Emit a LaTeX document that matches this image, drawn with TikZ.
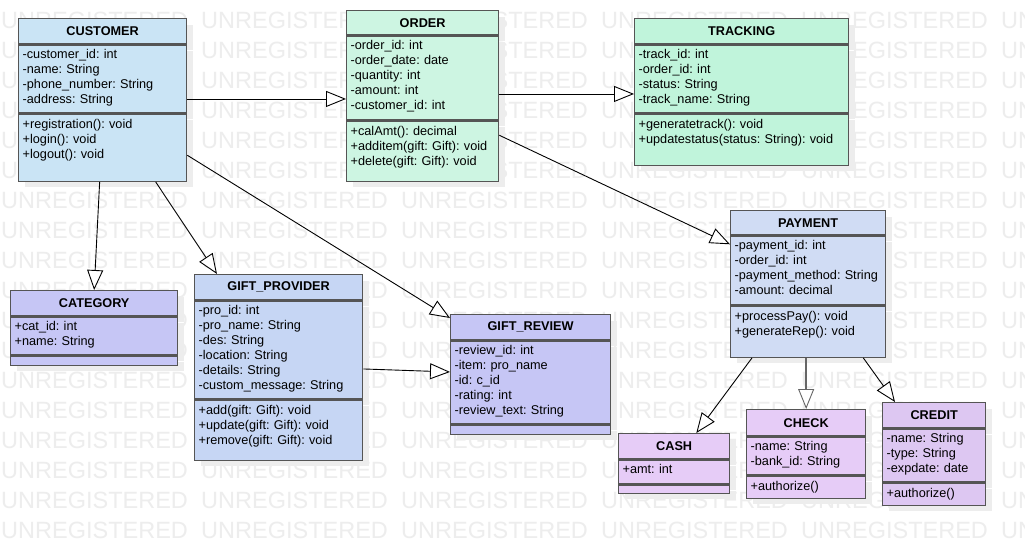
\documentclass[tikz,border=0pt]{standalone}
\usepackage{fontspec}
\setmainfont{Liberation Sans}
\usepackage{tikz}
\usetikzlibrary{arrows.meta,positioning,shadows}
\usepackage{xcolor}
\frenchspacing

\definecolor{edge}{HTML}{555555}
\definecolor{custblue}{HTML}{CAE4F5}
\definecolor{ordermint}{HTML}{CDF5E2}
\definecolor{trackmint}{HTML}{C0F4DB}
\definecolor{lavender}{HTML}{C6C6F5}
\definecolor{periwinkle}{HTML}{C6D6F4}
\definecolor{paylight}{HTML}{D0DCF4}
\definecolor{lilac}{HTML}{E6CCF7}
\definecolor{credlilac}{HTML}{DDC7F2}

\begin{document}
\begin{tikzpicture}[
    x=1pt, y=-1pt,
    shade/.style={drop shadow={shadow xshift=6pt, shadow yshift=-6pt, fill=black!7, opacity=1}},
    head/.style={draw=edge, line width=1.3pt, inner sep=0pt, minimum height=25pt, shade,
        font=\fontsize{12.7}{15}\selectfont\bfseries},
    body/.style={draw=edge, line width=1.3pt, inner xsep=4pt, inner ysep=0pt, align=left, shade,
        text height=14pt, text depth=#1, font=\fontsize{12.7}{15}\selectfont},
    nomethods/.style={body=#1, text height=0pt},
    inherit/.style={-{Triangle[length=20pt, width=16pt, fill=white]}, line width=0.9pt},
    wm/.style={inner sep=0pt, anchor=west, text=black!7, font=\fontsize{23.5}{24}\selectfont}
]
\clip (0,0) rectangle (1025,542);
\fill[white] (0,0) rectangle (1025,542);

% watermark
\foreach \r in {0,...,17}
  \foreach \c in {0,...,5}
    \node[wm] (wm-\r-\c) at (\c*200+1, 20+\r*30) {UNREGISTERED};

% customer
\node[head, fill=custblue, minimum width=168pt, anchor=north west] (customer) at (18,18) {CUSTOMER};
\node[body=54pt, fill=custblue, text width=160pt, below=0pt of customer] (customer-a) {-customer\_id: int\\-name: String\\-phone\_number: String\\-address: String};
\node[body=53pt, fill=custblue, text width=160pt, below=0pt of customer-a] (customer-m) {+registration(): void\\+login(): void\\+logout(): void};

% order
\node[head, fill=ordermint, minimum width=152pt, minimum height=24pt, anchor=north west] (order) at (346,10) {ORDER};
\node[body=70pt, fill=ordermint, text width=144pt, below=0pt of order] (order-a) {-order\_id: int\\-order\_date: date\\-quantity: int\\-amount: int\\-customer\_id: int};
\node[body=46pt, fill=ordermint, text width=144pt, below=0pt of order-a] (order-m) {+calAmt(): decimal\\+additem(gift: Gift): void\\+delete(gift: Gift): void};

% tracking
\node[head, fill=trackmint, minimum width=214pt, anchor=north west] (tracking) at (634,18) {TRACKING};
\node[body=54pt, fill=trackmint, text width=206pt, below=0pt of tracking] (tracking-a) {-track\_id: int\\-order\_id: int\\-status: String\\-track\_name: String};
\node[body=37pt, fill=trackmint, text width=206pt, below=0pt of tracking-a] (tracking-m) {+generatetrack(): void\\+updatestatus(status: String): void};

% category
\node[head, fill=lavender, minimum width=167pt, anchor=north west] (category) at (10,290) {CATEGORY};
\node[body=24pt, fill=lavender, text width=159pt, below=0pt of category] (category-a) {+cat\_id: int\\+name: String};
\node[nomethods=9pt, fill=lavender, text width=159pt, below=0pt of category-a] (category-m) {};

% gift provider
\node[head, fill=periwinkle, minimum width=168pt, anchor=north west] (provider) at (194,274) {GIFT\_PROVIDER};
\node[body=84pt, fill=periwinkle, text width=160pt, below=0pt of provider] (provider-a) {-pro\_id: int\\-pro\_name: String\\-des: String\\-location: String\\-details: String\\-custom\_message: String};
\node[body=46pt, fill=periwinkle, text width=160pt, below=0pt of provider-a] (provider-m) {+add(gift: Gift): void\\+update(gift: Gift): void\\+remove(gift: Gift): void};

% gift review
\node[head, fill=lavender, minimum width=160pt, anchor=north west] (review) at (450,314) {GIFT\_REVIEW};
\node[body=69pt, fill=lavender, text width=152pt, below=0pt of review] (review-a) {-review\_id: int\\-item: pro\_name\\-id: c\_id\\-rating: int\\-review\_text: String};
\node[nomethods=9pt, fill=lavender, text width=152pt, below=0pt of review-a] (review-m) {};

% payment
\node[head, fill=paylight, minimum width=155pt, minimum height=24pt, anchor=north west] (payment) at (730,210) {PAYMENT};
\node[body=55pt, fill=paylight, text width=147pt, below=0pt of payment] (payment-a) {-payment\_id: int\\-order\_id: int\\-payment\_method: String\\-amount: decimal};
\node[body=37pt, fill=paylight, text width=147pt, below=0pt of payment-a] (payment-m) {+processPay(): void\\+generateRep(): void};

% cash, check, credit
\node[head, fill=lilac, minimum width=111pt, anchor=north west] (cash) at (618,433) {CASH};
\node[body=10pt, fill=lilac, text width=103pt, below=0pt of cash] (cash-a) {+amt: int};
\node[nomethods=8pt, fill=lilac, text width=103pt, below=0pt of cash-a] (cash-m) {};

\node[head, fill=lilac, minimum width=119pt, minimum height=26pt, anchor=north west] (check) at (746,409) {CHECK};
\node[body=24pt, fill=lilac, text width=111pt, below=0pt of check] (check-a) {-name: String\\-bank\_id: String};
\node[body=8pt, fill=lilac, text width=111pt, below=0pt of check-a] (check-m) {+authorize()};

\node[head, fill=credlilac, minimum width=103pt, anchor=north west] (credit) at (882,402) {CREDIT};
\node[body=39pt, fill=credlilac, text width=95pt, below=0pt of credit] (credit-a) {-name: String\\-type: String\\-expdate: date};
\node[body=8pt, fill=credlilac, text width=95pt, below=0pt of credit-a] (credit-m) {+authorize()};

% generalisations
\draw[inherit] ([yshift=-20pt]customer-a.east) -- ([yshift=-20pt]customer-a.east -| order-a.west);
\draw[inherit] ([yshift=-16pt]order-a.east) -- ([yshift=-16pt]order-a.east -| tracking-a.west);
\draw[inherit] ([yshift=16pt]order-m.east) -- ([yshift=-9pt]payment-a.north west);
\draw[inherit] ([xshift=-3pt]customer-m.south) -- (category.north);
\draw[inherit] ([xshift=53pt]customer-m.south) -- ([xshift=23pt]provider.north west);
\draw[inherit] ([yshift=-7.5pt]customer-m.east) -- ([yshift=-4pt]review.north west);
\draw[inherit] ([yshift=-19pt]provider-a.east) -- ([yshift=10.5pt]review-a.west);
\draw[inherit] ([xshift=22pt]payment-m.south west) -- ([xshift=-34pt]cash.north east);
\draw[inherit, draw=black!60, line width=1.8pt, -{Triangle[length=20pt, width=16pt, fill=white, line width=0.9pt]}]
    (payment-m.south -| check.north) -- (check.north);
\draw[inherit] ([xshift=-23pt]payment-m.south east) -- ([xshift=13pt]credit.north west);
\end{tikzpicture}
\end{document}
